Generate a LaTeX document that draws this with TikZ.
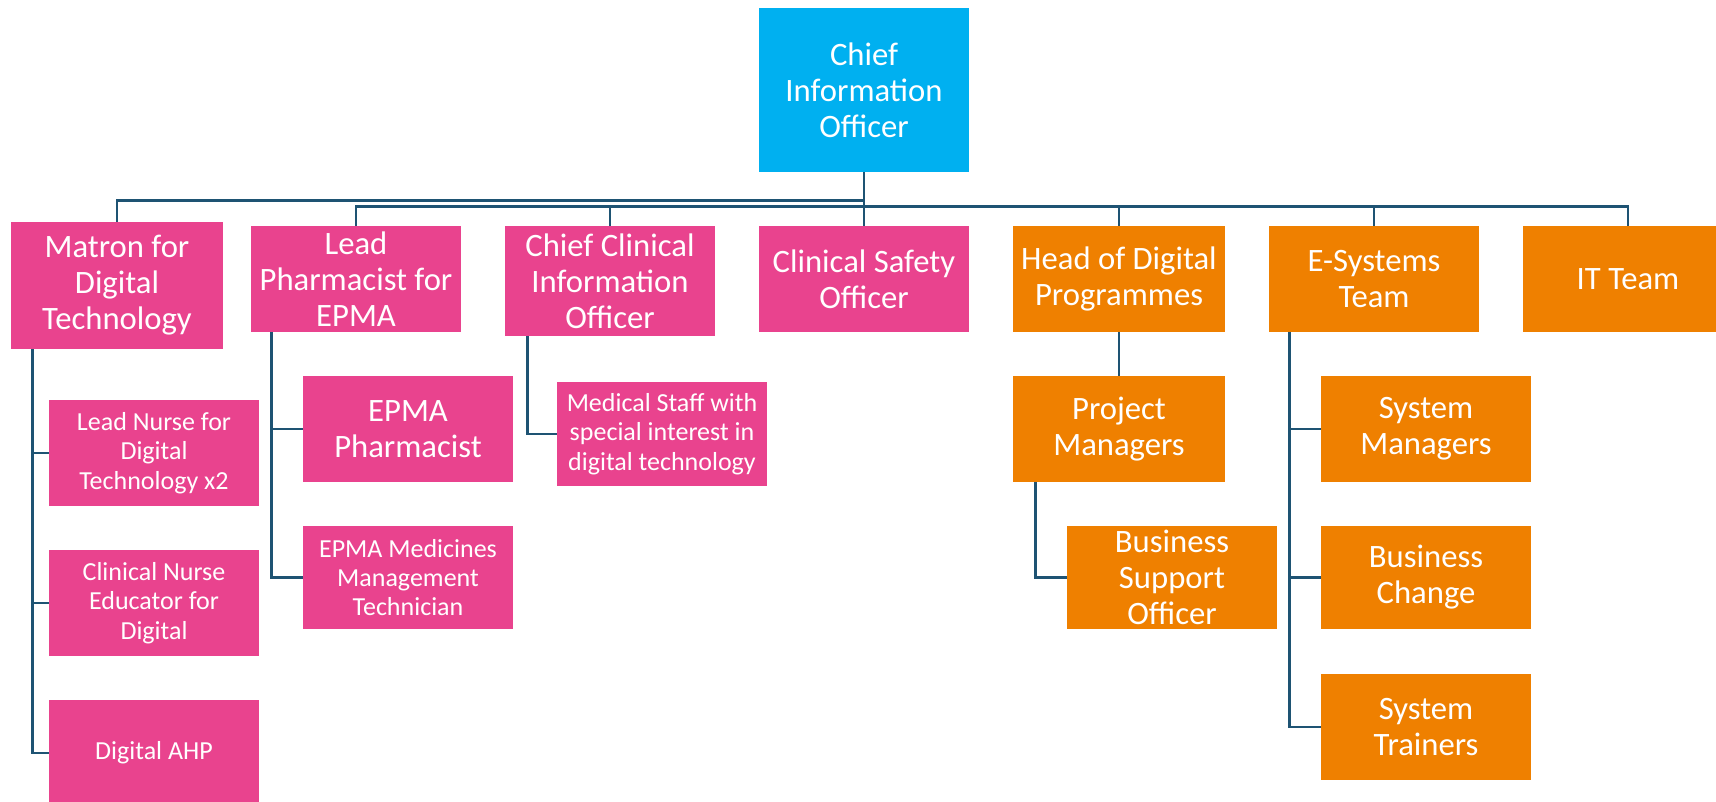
\documentclass[tikz,border=0pt]{standalone}
\usepackage{fontspec}
\setmainfont{Carlito}
\usepackage{xcolor}
\definecolor{ciocyan}{HTML}{00B0F0}
\definecolor{rolepink}{HTML}{E9438E}
\definecolor{roleorange}{HTML}{EF8000}
\definecolor{linkblue}{HTML}{1E5373}
\tikzset{
  box/.style={rectangle, draw=none, text=white, align=center, inner sep=1pt,
    minimum width=157.5pt, minimum height=79.5pt},
  bigtext/.style={font=\fontsize{24.5}{27}\selectfont},
  smalltext/.style={font=\fontsize{19.5}{22}\selectfont},
  pinkbox/.style={box, fill=rolepink},
  orangebox/.style={box, fill=roleorange},
  link/.style={draw=linkblue, line width=1.9pt}
}

\begin{document}
\begin{tikzpicture}[line cap=butt,line join=miter,x=0.75pt,y=-0.75pt]
    \useasboundingbox (0,0) rectangle (1716,802);
    % top
    \node[box, bigtext, fill=ciocyan, minimum height=123pt] (cio) at (864,90) {Chief\\Information\\Officer};
    % first row
    \node[pinkbox, bigtext, minimum width=159pt, minimum height=95pt] (matron) at (117,285.5) {Matron for\\Digital\\Technology};
    \node[pinkbox, bigtext] (leadph) at (356,279) {Lead\\Pharmacist for\\EPMA};
    \node[pinkbox, bigtext, minimum height=82.5pt] (ccio) at (610,281) {Chief Clinical\\Information\\Officer};
    \node[pinkbox, bigtext] (cso) at (864,279) {Clinical Safety\\Officer};
    \node[orangebox, bigtext, minimum width=159pt] (hodp) at (1119,279) {Head of Digital\\Programmes};
    \node[orangebox, bigtext] (esys) at (1374,279) {E-Systems\\Team};
    \node[orangebox, bigtext] (itteam) at (1628,279) {IT Team};
    % second row and below
    \node[pinkbox, smalltext] (nurse) at (154,453) {Lead Nurse for\\Digital\\Technology x2};
    \node[pinkbox, smalltext] (educator) at (154,603) {Clinical Nurse\\Educator for\\Digital};
    \node[pinkbox, smalltext] (ahp) at (154,753) {Digital AHP};
    \node[pinkbox, bigtext] (epmaph) at (408,429) {EPMA\\Pharmacist};
    \node[pinkbox, smalltext, minimum height=77pt] (technician) at (408,577.5) {EPMA Medicines\\Management\\Technician};
    \node[pinkbox, smalltext, minimum height=78pt] (medstaff) at (662,434) {Medical Staff with\\special interest in\\digital technology};
    \node[orangebox, bigtext, minimum width=159pt] (pm) at (1119,429) {Project\\Managers};
    \node[orangebox, bigtext, minimum height=77pt] (bso) at (1172,577.5) {Business\\Support\\Officer};
    \node[orangebox, bigtext] (sysman) at (1426,429) {System\\Managers};
    \node[orangebox, bigtext, minimum height=77pt] (buschange) at (1426,577.5) {Business\\Change};
    \node[orangebox, bigtext] (trainers) at (1426,727) {System\\Trainers};
    % connectors from the top
    \draw[link] (cio.south) -- ++(0,28) -| (matron.north);
    \foreach \n in {leadph,ccio,hodp,esys,itteam}
        \draw[link] (cio.south) -- ++(0,34) -| (\n.north);
    \draw[link] (cio.south) -- (cso.north);
    % connectors below
    \foreach \n in {nurse,educator,ahp}
        \draw[link] ([xshift=16.5pt]matron.south west) |- (\n.west);
    \foreach \n in {epmaph,technician}
        \draw[link] ([xshift=15.75pt]leadph.south west) |- (\n.west);
    \draw[link] ([xshift=17pt]ccio.south west) |- (medstaff.west);
    \draw[link] (hodp.south) -- (pm.north);
    \draw[link] ([xshift=17pt]pm.south west) |- (bso.west);
    \foreach \n in {sysman,buschange,trainers}
        \draw[link] ([xshift=15.75pt]esys.south west) |- (\n.west);
\end{tikzpicture}
\end{document}
